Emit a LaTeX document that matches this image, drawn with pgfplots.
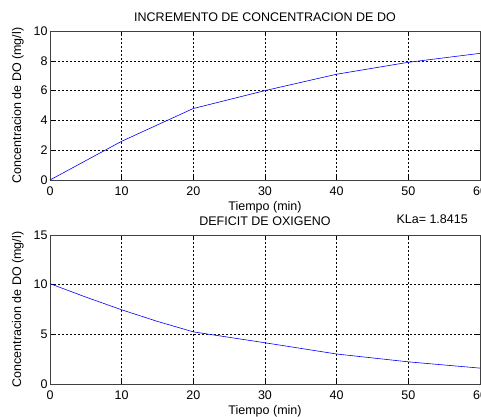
\documentclass[border=0pt]{standalone}
\usepackage{fontspec}
\setmainfont{Liberation Sans}
\usepackage{pgfplots}
\pgfplotsset{compat=1.18}
\begin{document}
\begin{tikzpicture}[x=1pt,y=1pt]
\path[use as bounding box] (0,0) rectangle (481,416);
\pgfplotsset{
  mat/.style={
    scale only axis, width=430pt, height=149pt,
    xmin=0, xmax=60,
    xtick={0,10,20,30,40,50,60},
    grid=major,
    grid style={black, line width=0.5pt, dash pattern=on 2pt off 2pt},
    axis line style={black!75, line width=0.6pt},
    tick style={black, line width=0.5pt},
    tick align=inside,
    major tick length=4pt,
    xtick pos=both, ytick pos=both,
    /pgf/number format/assume math mode=true,
    tick label style={font=\fontsize{12.5}{14}\selectfont},
    label style={font=\fontsize{12.5}{14}\selectfont},
    title style={font=\fontsize{12.5}{14}\selectfont},
    xticklabel style={yshift=-3pt},
    yticklabel style={xshift=1pt},
    xlabel style={yshift=1pt},
    ylabel style={yshift=3pt},
    every axis plot/.append style={blue, line width=0.6pt, no markers},
  }
}
\begin{axis}[mat, at={(50pt,236pt)}, anchor=south west,
  ymin=0, ymax=10, ytick={0,2,4,6,8,10},
  title={INCREMENTO DE CONCENTRACION DE DO},
  title style={yshift=0pt},
  xlabel={Tiempo (min)}, ylabel={Concentracion de DO (mg/l)}]
\addplot coordinates {(0,0) (10,2.6) (20,4.8) (30,6.0) (40,7.1) (50,7.9) (60,8.5)};
\end{axis}
\begin{axis}[mat, at={(50pt,32pt)}, anchor=south west,
  ymin=0, ymax=15, ytick={0,5,10,15},
  title={DEFICIT DE OXIGENO},
  title style={yshift=0pt},
  xlabel={Tiempo (min)}, ylabel={Concentracion de DO (mg/l)}]
\addplot coordinates {(0,10.1) (5,8.75) (10,7.47) (15,6.3) (20,5.25) (30,4.15) (40,3.02) (50,2.23) (60,1.6)};
\end{axis}
\node[anchor=west, font=\fontsize{12.5}{14}\selectfont] at (393,197) {KLa= 1.8415};
\end{tikzpicture}
\end{document}
